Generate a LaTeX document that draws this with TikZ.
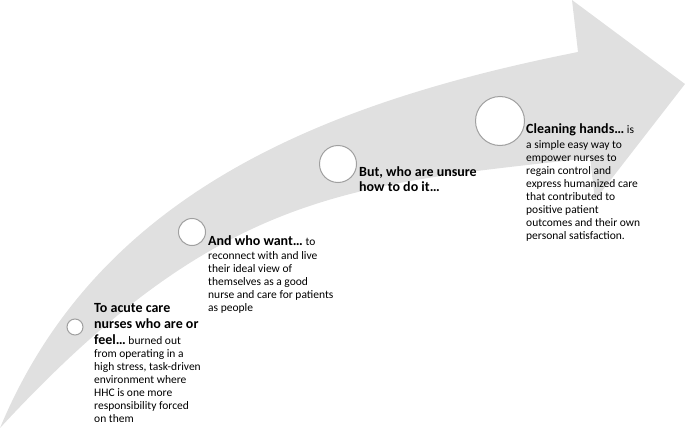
\documentclass[tikz,border=0pt]{standalone}
\usepackage{fontspec}
\setmainfont{Carlito}
\definecolor{arrowgrey}{RGB}{224,224,224}
\definecolor{ringgrey}{RGB}{160,160,160}
\newcommand\hb[1]{{\fontsize{14}{16}\selectfont\bfseries #1}}
\begin{document}
\begin{tikzpicture}[x=1pt,y=-1pt,
  ring/.style={circle, draw=ringgrey, fill=white, line width=1pt, inner sep=0pt},
  txt/.style={anchor=north west, inner sep=0pt, align=left, font=\fontsize{11.5}{13}\selectfont}]
\useasboundingbox (0,0) rectangle (685,428);
% big curved arrow
\fill[arrowgrey] (0,428) .. controls (95,200) and (310,105) .. (578,52)
  -- (572,0) -- (685,84) -- (595,200) -- (590,158)
  .. controls (350,185) and (220,190) .. (0,428) -- cycle;
% circles
\node[ring, minimum size=16pt] (c1) at (75,327) {};
\node[ring, minimum size=27pt] (c2) at (192,232) {};
\node[ring, minimum size=37pt] (c3) at (338,164) {};
\node[ring, minimum size=49pt] (c4) at (500,121) {};
% texts
\node[txt] (t1) at (94,303) {\hb{To acute care}\\[3pt]
  \hb{nurses who are or}\\[3pt]
  \hb{feel…} burned out\\
  from operating in a\\
  high stress, task-driven\\
  environment where\\
  HHC is one more\\
  responsibility forced\\
  on them};
\node[txt] (t2) at (208,235) {\hb{And who want…} to\\[1pt]
  reconnect with and live\\
  their ideal view of\\
  themselves as a good\\
  nurse and care for patients\\
  as people};
\node[txt] (t3) at (359,166) {\hb{But, who are unsure}\\[2pt]
  \hb{how to do it…}};
\node[txt] (t4) at (526,123) {\hb{Cleaning hands…} is\\[2pt]
  a simple easy way to\\
  empower nurses to\\
  regain control and\\
  express humanized care\\
  that contributed to\\
  positive patient\\
  outcomes and their own\\
  personal satisfaction.};
\end{tikzpicture}
\end{document}
